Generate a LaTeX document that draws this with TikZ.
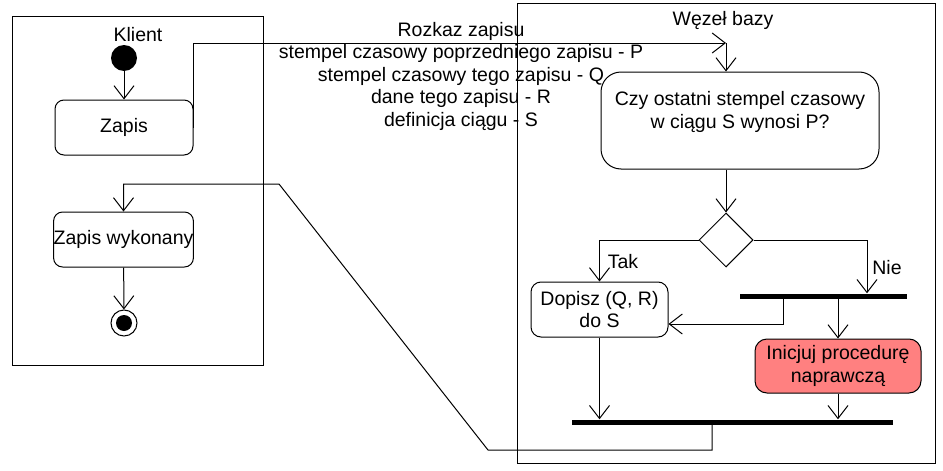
\documentclass[tikz,border=0pt]{standalone}
\usepackage{fontspec}
\setmainfont{Liberation Sans}
\usetikzlibrary{arrows.meta,shapes.geometric,calc}
\definecolor{salmonred}{HTML}{FF8080}
\begin{document}
\begin{tikzpicture}[x=1pt,y=-1pt,
  every node/.style={font=\fontsize{19.5}{22.5}\selectfont, inner sep=0pt},
  lane/.style={draw, line width=1pt, anchor=north west},
  act/.style={draw, line width=1pt, rounded corners=9pt, align=center},
  flow/.style={line width=1pt, -{Straight Barb[length=13pt,width=20pt,line width=1pt]}},
  plain/.style={line width=1pt},
  bar/.style={fill=black, minimum height=5pt},
]
\useasboundingbox (0,0) rectangle (943,471);
% swimlanes
\node[lane, minimum width=251pt, minimum height=349pt] (lane1) at (12,16) {};
\node[lane, minimum width=418pt, minimum height=460pt] (lane2) at (517,3) {};
\node (klient) at (138,35) {Klient};
\node (wezel) at (723,20) {Węzeł bazy};
% client side
\node[circle, fill=black, minimum size=26pt] (start) at (124,58) {};
\node[act, minimum width=138pt, minimum height=55pt] (zapis) at (124,127.5) {Zapis};
\node[act, minimum width=139pt, minimum height=55pt] (zw) at (123.5,239.5) {Zapis wykonany};
\node[circle, draw, line width=1pt, minimum size=26pt] (end) at (124,323) {};
\node[circle, fill=black, minimum size=16pt] (endin) at (end.center) {};
% message
\coordinate (m1) at (726,43);
\node[align=center] (msg) at (461,76) {Rozkaz zapisu\\stempel czasowy poprzedniego zapisu - P\\stempel czasowy tego zapisu - Q\\dane tego zapisu - R\\definicja ciągu - S};
% database side
\node[draw, line width=1pt, rounded corners=20pt, minimum width=278pt, minimum height=97pt,
      label={[yshift=9pt, align=center, font=\fontsize{19.5}{23}\selectfont]center:Czy ostatni stempel czasowy\\w ciągu S wynosi P?}] (czy) at (740,120.5) {};
\node[diamond, draw, line width=1pt, minimum width=54pt, minimum height=54pt] (dec) at (726,240) {};
\node[act, rounded corners=10pt, minimum width=137pt, minimum height=55pt] (dopisz) at (599.5,309.5) {Dopisz (Q, R)\\do S};
\node[bar, minimum width=167pt] (fork) at (823.5,296) {};
\node[act, rounded corners=12pt, fill=salmonred, minimum width=166pt, minimum height=54pt] (inic) at (838,366) {Inicjuj procedurę\\naprawczą};
\node[bar, minimum width=321pt] (join) at (732.5,422) {};
\node (tak) at (623,262) {Tak};
\node (nie) at (887,268) {Nie};
% connectors
\draw[flow] (start) -- (zapis);
\draw[flow] (zapis.east) |- (m1);
\draw[flow] (m1) -- (m1 |- czy.north);
\draw[flow] (czy.south -| dec.north) -- (dec.north);
\draw[flow] (dec.west) -| (dopisz.north);
\draw[flow] (dec.east) -| ([xshift=43.5pt]fork.north);
\draw[flow] ([xshift=-40.5pt]fork.south) |- ($(dopisz.east)+(0,14.5)$);
\draw[flow] (fork.south -| inic.north) -- (inic.north);
\draw[flow] (dopisz.south) -- (dopisz.south |- join.north);
\draw[flow] (inic.south) -- (inic.south |- join.north);
\draw[flow] ([xshift=-20.5pt]join.south) |- (488,450) -- (279,184) -| (zw.north);
\draw[flow] (zw) -- (end);
\end{tikzpicture}
\end{document}
